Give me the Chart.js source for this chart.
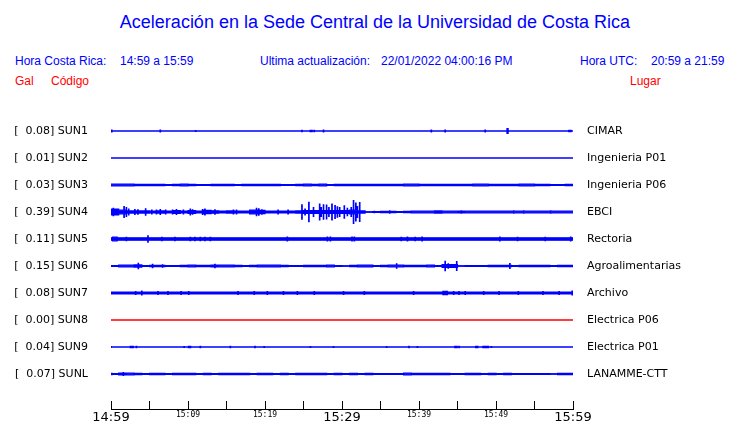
<!DOCTYPE html>
<html lang="es">
<head>
<meta charset="utf-8">
<title>Aceleración Sede Central UCR</title>
<script src="https://cdn.jsdelivr.net/npm/chart.js@4/dist/chart.umd.min.js"></script>
<style>
  body { margin: 0; background: #fff; }
  #caja { position: relative; width: 740px; height: 423px; overflow: hidden; }
  #grafico { position: absolute; left: 0; top: 0; }
  .txt { position: absolute; font-family: "Liberation Sans", Arial, sans-serif; white-space: pre; line-height: 14px; font-size: 12px; color: #0000ff; }
  .rojo { color: #ff0000; }
  #titulo { font-size: 18px; line-height: 20px; left: 0; width: 750px; text-align: center; top: 12px; }
</style>
</head>
<body>
<div id="caja">
  <div class="txt" id="titulo">Aceleración en la Sede Central de la Universidad de Costa Rica</div>
  <div class="txt" style="left:15px;top:54px">Hora Costa Rica:</div>
  <div class="txt" style="left:120px;top:54px">14:59 a 15:59</div>
  <div class="txt" style="left:260px;top:54px">Ultima actualización:</div>
  <div class="txt" style="left:381px;top:54px">22/01/2022 04:00:16 PM</div>
  <div class="txt" style="left:580px;top:54px">Hora UTC:</div>
  <div class="txt" style="left:651px;top:54px">20:59 a 21:59</div>
  <div class="txt rojo" style="left:15px;top:74px">Gal</div>
  <div class="txt rojo" style="left:51px;top:74px">Código</div>
  <div class="txt rojo" style="left:630px;top:74px">Lugar</div>
  <canvas id="grafico" width="740" height="423"></canvas>
</div>
<script>
//estaciones, de arriba hacia abajo
const codigos = ["SUN1", "SUN2", "SUN3", "SUN4", "SUN5", "SUN6", "SUN7", "SUN8", "SUN9", "SUNL"];
const lugares = ["CIMAR", "Ingenieria P01", "Ingenieria P06", "EBCI", "Rectoria", "Agroalimentarias", "Archivo", "Electrica P06", "Electrica P01", "LANAMME-CTT"];
const picosGal = [0.08, 0.01, 0.03, 0.39, 0.11, 0.15, 0.08, 0.00, 0.04, 0.07]; //maximo de cada estacion
const horasX = ["14:59", "15:09", "15:19", "15:29", "15:39", "15:49", "15:59"]; //cada 10 minutos

//amplitud de fondo (Gal) por tramo, el tramo dura 60 / largo del arreglo minutos
const baseSUN1 = [0];
const baseSUN2 = [0];
const baseSUN3 = [0.024, 0.024, 0.024, 0.02, 0.018, 0.02, 0.018, 0.008, 0.02, 0.024,
  0.015, 0.01, 0.01, 0.015, 0.015, 0.015, 0.012, 0.015, 0.018, 0.02,
  0.02, 0.015, 0.01, 0.01, 0.015, 0.024, 0.02, 0.024, 0.01, 0.015,
  0.02, 0.02, 0.015, 0.015, 0.02, 0.02, 0.02, 0.02, 0.022, 0.024,
  0.018, 0.015, 0.015, 0.018, 0.015, 0.018, 0.018, 0.024, 0.022, 0.015,
  0.018, 0.015, 0.015, 0.022, 0.022, 0.02, 0.015, 0.01, 0.008, 0.02];
const baseSUN4 = [0.08, 0.05, 0.03, 0.03, 0.03, 0.025, 0.03, 0.025, 0.04, 0.025,
  0.04, 0.025, 0.045, 0.035, 0.025, 0.03, 0.025, 0.025, 0.05, 0.045,
  0.025, 0.025, 0.025, 0.025, 0.03, 0.04, 0.04, 0.04, 0.04, 0.04,
  0.04, 0.05, 0.03, 0.005, 0.008, 0.015, 0.015, 0.01, 0.02, 0.022,
  0.022, 0.022, 0.03, 0.022, 0.022, 0.028, 0.022, 0.022, 0.022, 0.022,
  0.022, 0.022, 0.022, 0.022, 0.022, 0.022, 0.022, 0.022, 0.022, 0.022];
const baseSUN5 = [0.032];
const baseSUN6 = [0.01, 0.022, 0.022, 0.03, 0.008, 0.02, 0.018, 0.008, 0.008, 0.018,
  0.022, 0.018, 0.015, 0.025, 0.022, 0.022, 0.018, 0.008, 0.02, 0.022,
  0.022, 0.022, 0.015, 0.01, 0.008, 0.015, 0.018, 0.015, 0.022, 0.008,
  0.005, 0.015, 0.022, 0.022, 0.01, 0.018, 0.022, 0.022, 0.018, 0.02,
  0.015, 0.022, 0.01, 0.04, 0.04, 0.005, 0.008, 0.008, 0.012, 0.02,
  0.015, 0.015, 0.012, 0.02, 0.018, 0.02, 0.02, 0.012, 0.02, 0.02];
const baseSUN7 = [0.028];
const baseSUN8 = [0];
const baseSUN9 = [0];
const baseSUNL = [0.008, 0.025, 0.022, 0.02, 0.01, 0.015, 0.018, 0.012, 0.015, 0.015,
  0.018, 0.012, 0.015, 0.012, 0.018, 0.015, 0.018, 0.015, 0.012, 0.02,
  0.02, 0.01, 0.018, 0.01, 0.018, 0.015, 0.015, 0.02, 0.01, 0.015,
  0.012, 0.018, 0.012, 0.015, 0.012, 0.012, 0.012, 0.01, 0.022, 0.018,
  0.018, 0.018, 0.015, 0.02, 0.01, 0.012, 0.015, 0.015, 0.012, 0.018,
  0.012, 0.015, 0.012, 0.012, 0.012, 0.012, 0.01, 0.005, 0.015, 0.015];

//picos: [minuto, amplitud Gal, duracion en minutos (opcional)]
const picosSUN1 = [[0.1, 0.025], [6.4, 0.025], [11.0, 0.012], [24.8, 0.015], [25.9, 0.02], [26.1, 0.02], [26.4, 0.02],
  [27.6, 0.025], [41.6, 0.025], [43.4, 0.025], [48.6, 0.025], [51.5, 0.07, 0.15], [59.6, 0.02, 0.3]];
const picosSUN2 = [];
const picosSUN3 = [];
const picosSUN4 = [[0.3, 0.1], [1.7, 0.15], [2.0, 0.12], [2.3, 0.08], [3.1, 0.07], [3.5, 0.06], [4.5, 0.09], [5.3, 0.05],
  [5.9, 0.05], [6.4, 0.07], [7.1, 0.05], [8.0, 0.05], [8.5, 0.07], [9.4, 0.05], [10.3, 0.08], [10.6, 0.06],
  [11.9, 0.07], [12.2, 0.08], [13.5, 0.06], [15.9, 0.05], [16.3, 0.05], [18.9, 0.1], [19.2, 0.09], [19.6, 0.06],
  [21.7, 0.05], [23.0, 0.05], [24.8, 0.2], [25.2, 0.08], [25.7, 0.27], [26.3, 0.12], [27.1, 0.22], [27.3, 0.12],
  [27.6, 0.2], [28.0, 0.19], [28.3, 0.12], [28.7, 0.22], [29.1, 0.18], [29.4, 0.14], [29.7, 0.12], [30.3, 0.17],
  [30.7, 0.1], [31.2, 0.12], [31.5, 0.32], [31.8, 0.25], [32.0, 0.15], [32.3, 0.26], [34.2, 0.02], [35.2, 0.02],
  [36.2, 0.03], [42.2, 0.03], [45.5, 0.03], [52.3, 0.03], [53.6, 0.03], [57.1, 0.03]];
const picosSUN5 = [[0.5, 0.05, 0.6], [2.0, 0.045], [4.8, 0.09], [6.6, 0.045], [8.3, 0.045], [10.3, 0.045], [10.9, 0.045],
  [11.6, 0.045], [12.2, 0.045], [12.9, 0.045], [22.9, 0.05], [28.1, 0.055], [28.5, 0.055], [31.3, 0.055], [31.6, 0.05],
  [37.7, 0.045], [38.5, 0.055], [39.5, 0.045], [40.4, 0.05], [50.5, 0.055], [52.8, 0.045], [56.4, 0.045], [59.7, 0.05]];
const picosSUN6 = [[3.55, 0.075], [5.4, 0.045], [6.7, 0.035], [13.5, 0.045], [37.1, 0.06], [43.4, 0.13], [43.8, 0.06],
  [44.9, 0.12], [51.8, 0.07]];
const picosSUN7 = [[3.2, 0.04], [4.0, 0.05], [6.1, 0.04], [7.4, 0.04], [9.1, 0.04], [10.1, 0.04], [16.5, 0.04], [18.6, 0.04],
  [20.3, 0.04], [22.4, 0.04], [24.2, 0.04], [26.4, 0.04], [30.2, 0.04], [32.9, 0.04], [39.3, 0.04], [43.4, 0.045, 0.6],
  [44.5, 0.04], [45.2, 0.04], [46.0, 0.04], [48.4, 0.04], [50.4, 0.04], [52.9, 0.04], [56.1, 0.04], [58.2, 0.04], [59.9, 0.055]];
const picosSUN8 = [];
const picosSUN9 = [[0.0, 0.01], [2.7, 0.02, 0.4], [3.3, 0.02], [9.5, 0.008], [10.2, 0.02, 0.3], [11.6, 0.015], [15.5, 0.02],
  [18.7, 0.02], [19.9, 0.008], [25.9, 0.008], [28.9, 0.012], [35.8, 0.008], [38.7, 0.015], [39.8, 0.008],
  [44.8, 0.02, 0.3], [45.2, 0.02], [47.5, 0.02, 0.3], [48.6, 0.02, 0.6], [49.0, 0.02], [49.4, 0.01]];
const picosSUNL = [[0.1, 0.015], [1.6, 0.04]];

const bases = [baseSUN1, baseSUN2, baseSUN3, baseSUN4, baseSUN5, baseSUN6, baseSUN7, baseSUN8, baseSUN9, baseSUNL];
const picos = [picosSUN1, picosSUN2, picosSUN3, picosSUN4, picosSUN5, picosSUN6, picosSUN7, picosSUN8, picosSUN9, picosSUNL];

const SEPARACION = 0.75; //distancia entre trazas en Gal
const ANCHO_PICO = 0.06; //minutos
const Y_MIN = -35 / 36;
const Y_MAX = Y_MIN + 308 / 36;
const AZUL = "#0000ff";
const ROJO = "#ff0000";

//centro vertical de cada traza
const centro = (k) => (codigos.length - 1 - k) * SEPARACION;

//envolvente escalonada con los tramos base y los picos
function envolvente(base, lista) {
  const paso = 60 / base.length;
  let cortes = [];
  for (let i = 0; i <= base.length; i++) cortes.push(i * paso);
  lista.forEach((p) => {
    const w = (p[2] || ANCHO_PICO) / 2;
    cortes.push(p[0] - w, p[0] + w);
  });
  cortes = [...new Set(cortes.map((c) => +Math.min(60, Math.max(0, c)).toFixed(4)))].sort((a, b) => a - b);
  return cortes.map((t, i) => {
    const mid = i < cortes.length - 1 ? (t + cortes[i + 1]) / 2 : t;
    let a = base[Math.min(base.length - 1, Math.floor(mid / paso))];
    lista.forEach((p) => {
      const w = (p[2] || ANCHO_PICO) / 2;
      if (mid >= p[0] - w && mid <= p[0] + w) a = Math.max(a, p[1]);
    });
    return { x: t, a: a };
  });
}

//dos lineas por estacion (arriba y abajo) rellenas entre ellas
const datasets = [];
codigos.forEach((cod, k) => {
  const env = envolvente(bases[k], picos[k]);
  const color = picosGal[k] === 0 ? ROJO : AZUL;
  const comun = { borderColor: color, backgroundColor: color, borderWidth: 1.2, pointRadius: 0, stepped: true };
  datasets.push({ ...comun, label: cod + " +", data: env.map((p) => ({ x: p.x, y: centro(k) + p.a })), fill: false });
  datasets.push({ ...comun, label: cod + " -", data: env.map((p) => ({ x: p.x, y: centro(k) - p.a })), fill: "-1" });
});

const ticksTrazas = (scale) => {
  scale.ticks = codigos.map((c, k) => ({ value: centro(k) }));
};
const indiceTraza = (v) => Math.round(codigos.length - 1 - v / SEPARACION);

new Chart(document.getElementById("grafico"), {
  type: "line",
  data: { datasets: datasets },
  options: {
    responsive: false,
    animation: false,
    devicePixelRatio: 1,
    layout: { padding: { top: 101, left: 0, right: 0, bottom: 0 } },
    plugins: { legend: { display: false }, tooltip: { enabled: false } },
    scales: {
      x: {
        type: "linear",
        position: "bottom",
        min: 0,
        max: 60,
        afterFit: (s) => { s.height = 14; },
        grid: { drawOnChartArea: false, drawTicks: true, tickLength: -8, color: "#000", lineWidth: 1 },
        border: { display: true, color: "#000", width: 1 },
        ticks: {
          stepSize: 5,
          autoSkip: false,
          maxRotation: 0,
          padding: 9,
          color: "#000",
          callback: (v) => (v % 10 === 0 ? horasX[v / 10] : ""),
          font: (ctx) => (ctx.tick && ctx.tick.value % 30 === 0
            ? { family: "DejaVu Sans", size: 13 }
            : { family: "DejaVu Sans Mono", size: 8 })
        }
      },
      //etiquetas de la izquierda: marcas invisibles para separar el texto sin relleno vertical
      y: {
        type: "linear",
        position: "left",
        min: Y_MIN,
        max: Y_MAX,
        afterBuildTicks: ticksTrazas,
        afterFit: (s) => { s.width = 111; },
        grid: { drawOnChartArea: false, drawTicks: true, tickLength: 23, color: "rgba(0,0,0,0)" },
        border: { display: false },
        ticks: {
          padding: 0,
          color: "#000",
          font: { family: "DejaVu Sans", size: 11 },
          callback: (v) => {
            const k = indiceTraza(v);
            return "[  " + picosGal[k].toFixed(2) + "] " + codigos[k];
          }
        }
      },
      y2: {
        type: "linear",
        position: "right",
        min: Y_MIN,
        max: Y_MAX,
        afterBuildTicks: ticksTrazas,
        afterFit: (s) => { s.width = 167; },
        grid: { drawOnChartArea: false, drawTicks: true, tickLength: 14, color: "rgba(0,0,0,0)" },
        border: { display: false },
        ticks: {
          padding: 0,
          color: "#000",
          font: { family: "DejaVu Sans", size: 11 },
          callback: (v) => lugares[indiceTraza(v)]
        }
      }
    }
  }
});
</script>
</body>
</html>
